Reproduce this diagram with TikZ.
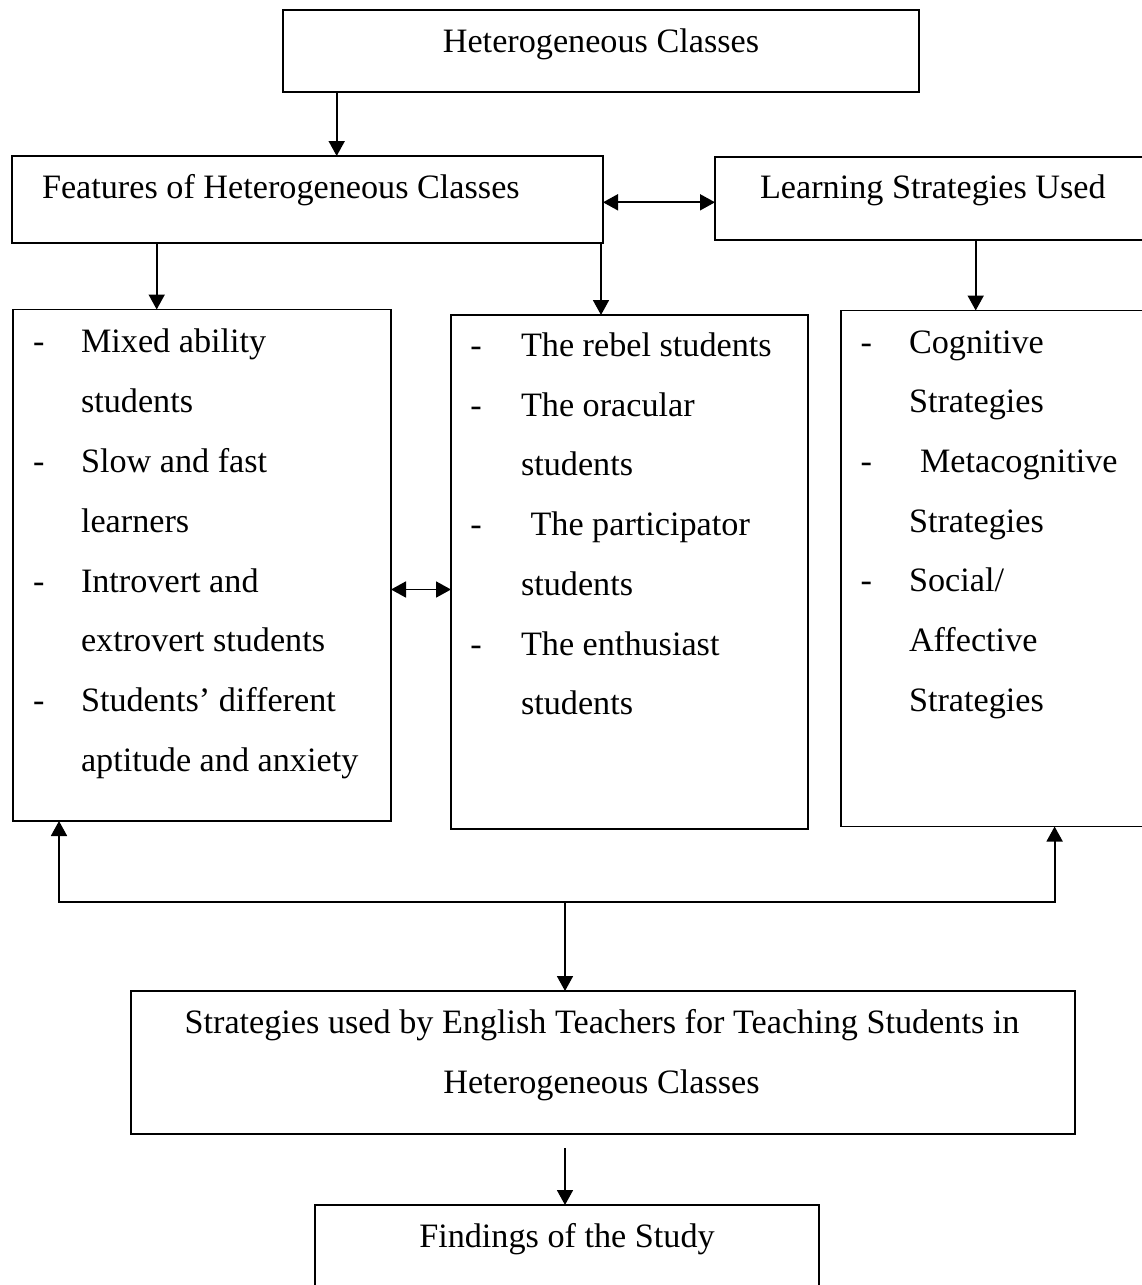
\documentclass[tikz,border=0pt]{standalone}
\usepackage{fontspec}
\setmainfont{Liberation Serif}
\usetikzlibrary{arrows.meta}
\begin{document}
\begin{tikzpicture}[x=1pt,y=-1pt,
  box/.style={draw, line width=1.8pt, inner sep=0pt, outer sep=0pt, anchor=north west},
  txt/.style={inner sep=0pt, outer sep=0pt, anchor=base west, font=\fontsize{34.2}{59.9}\selectfont},
  ctxt/.style={txt, anchor=base},
  conn/.style={line width=1.8pt},
  arr/.style={conn, -{Triangle[length=15pt,width=16pt]}},
  darr/.style={conn, {Triangle[length=15pt,width=16pt]}-{Triangle[length=15pt,width=16pt]}}]
\useasboundingbox (0,0) rectangle (1142,1285);
\clip (0,0) rectangle (1142,1285);

% boxes
\node[box, minimum width=636pt, minimum height=82pt] (top) at (283,10) {};
\node[box, minimum width=591pt, minimum height=87pt] (feat) at (12,156) {};
\node[box, minimum width=440pt, minimum height=83pt] (learn) at (715,157) {};
\node[box, minimum width=378.3pt, minimum height=511.5pt] (lbox) at (12.7,309.5) {};
\node[box, minimum width=357pt, minimum height=514pt] (mbox) at (451,315) {};
\node[box, minimum width=320pt, minimum height=516pt] (rbox) at (841,310.5) {};
\node[box, minimum width=944pt, minimum height=143pt] (strat) at (131,991) {};
\node[box, minimum width=504pt, minimum height=110pt] (find) at (315,1205) {};

% titles
\node[ctxt] (toptxt) at (601,52) {Heterogeneous Classes};
\node[txt] (feattxt) at (42,198) {Features of Heterogeneous Classes};
\node[txt] (learntxt) at (760,198) {Learning Strategies Used};
\node[ctxt] (strat1) at (602,1033) {Strategies used by English Teachers for Teaching Students in};
\node[ctxt] (strat2) at (601.5,1093) {Heterogeneous Classes};
\node[ctxt] (findtxt) at (567,1247) {Findings of the Study};

% left list
\foreach \y/\t [count=\i] in {352.4/Mixed ability, 412.3/students, 472.2/Slow and fast, 532.1/learners, 592/Introvert and, 651.9/extrovert students, 711.8/Students’ different, 771.7/aptitude and anxiety}
  \node[txt] (L\i) at (81,\y) {\t};
\foreach \y [count=\i] in {352.4, 472.2, 592, 711.8}
  \node[txt] (LD\i) at (33,\y) {-};

% middle list
\foreach \y/\t [count=\i] in {356.5/The rebel students, 416.2/The oracular, 475.9/students, 595.3/students, 655/The enthusiast, 714.7/students}
  \node[txt] (M\i) at (521,\y) {\t};
\node[txt] (Mp) at (530.5,535.6) {The participator};
\foreach \y [count=\i] in {356.5, 416.2, 535.6, 655}
  \node[txt] (MD\i) at (470.4,\y) {-};

% right list
\foreach \y/\t [count=\i] in {353/Cognitive, 412.7/Strategies, 532.1/Strategies, 651.5/Affective, 711.2/Strategies}
  \node[txt] (R\i) at (909,\y) {\t};
\node[txt] (Rs) at (909,591.8) {Social/};
\node[txt] (Rm) at (920,472.4) {Metacognitive};
\foreach \y [count=\i] in {353, 472.4, 591.8}
  \node[txt] (RD\i) at (860.7,\y) {-};

% connectors
\coordinate (xa) at (336.7,0);
\draw[arr] (top.south -| xa) -- (feat.north -| xa);
\coordinate (ya) at (0,202.3);
\draw[darr] (feat.east |- ya) -- (learn.west |- ya);
\coordinate (xb) at (156.7,0);
\draw[arr] (feat.south -| xb) -- (lbox.north -| xb);
\coordinate (xc) at (601,0);
\draw[arr] (feat.south -| xc) -- (mbox.north -| xc);
\coordinate (xd) at (975.7,0);
\draw[arr] (learn.south -| xd) -- (rbox.north -| xd);
\coordinate (yb) at (0,589.5);
\draw[darr] (lbox.east |- yb) -- (mbox.west |- yb);
\coordinate (bL) at (59,902);
\coordinate (bR) at (1054.6,902);
\coordinate (bM) at (565,902);
\draw[conn, line cap=rect] (bL) -- (bR);
\draw[arr] (bL) -- (lbox.south -| bL);
\draw[arr] (bR) -- (rbox.south -| bR);
\draw[arr] (bM) -- (strat.north -| bM);
\coordinate (sF) at (565,1148);
\draw[arr] (sF) -- (find.north -| sF);
\end{tikzpicture}
\end{document}
